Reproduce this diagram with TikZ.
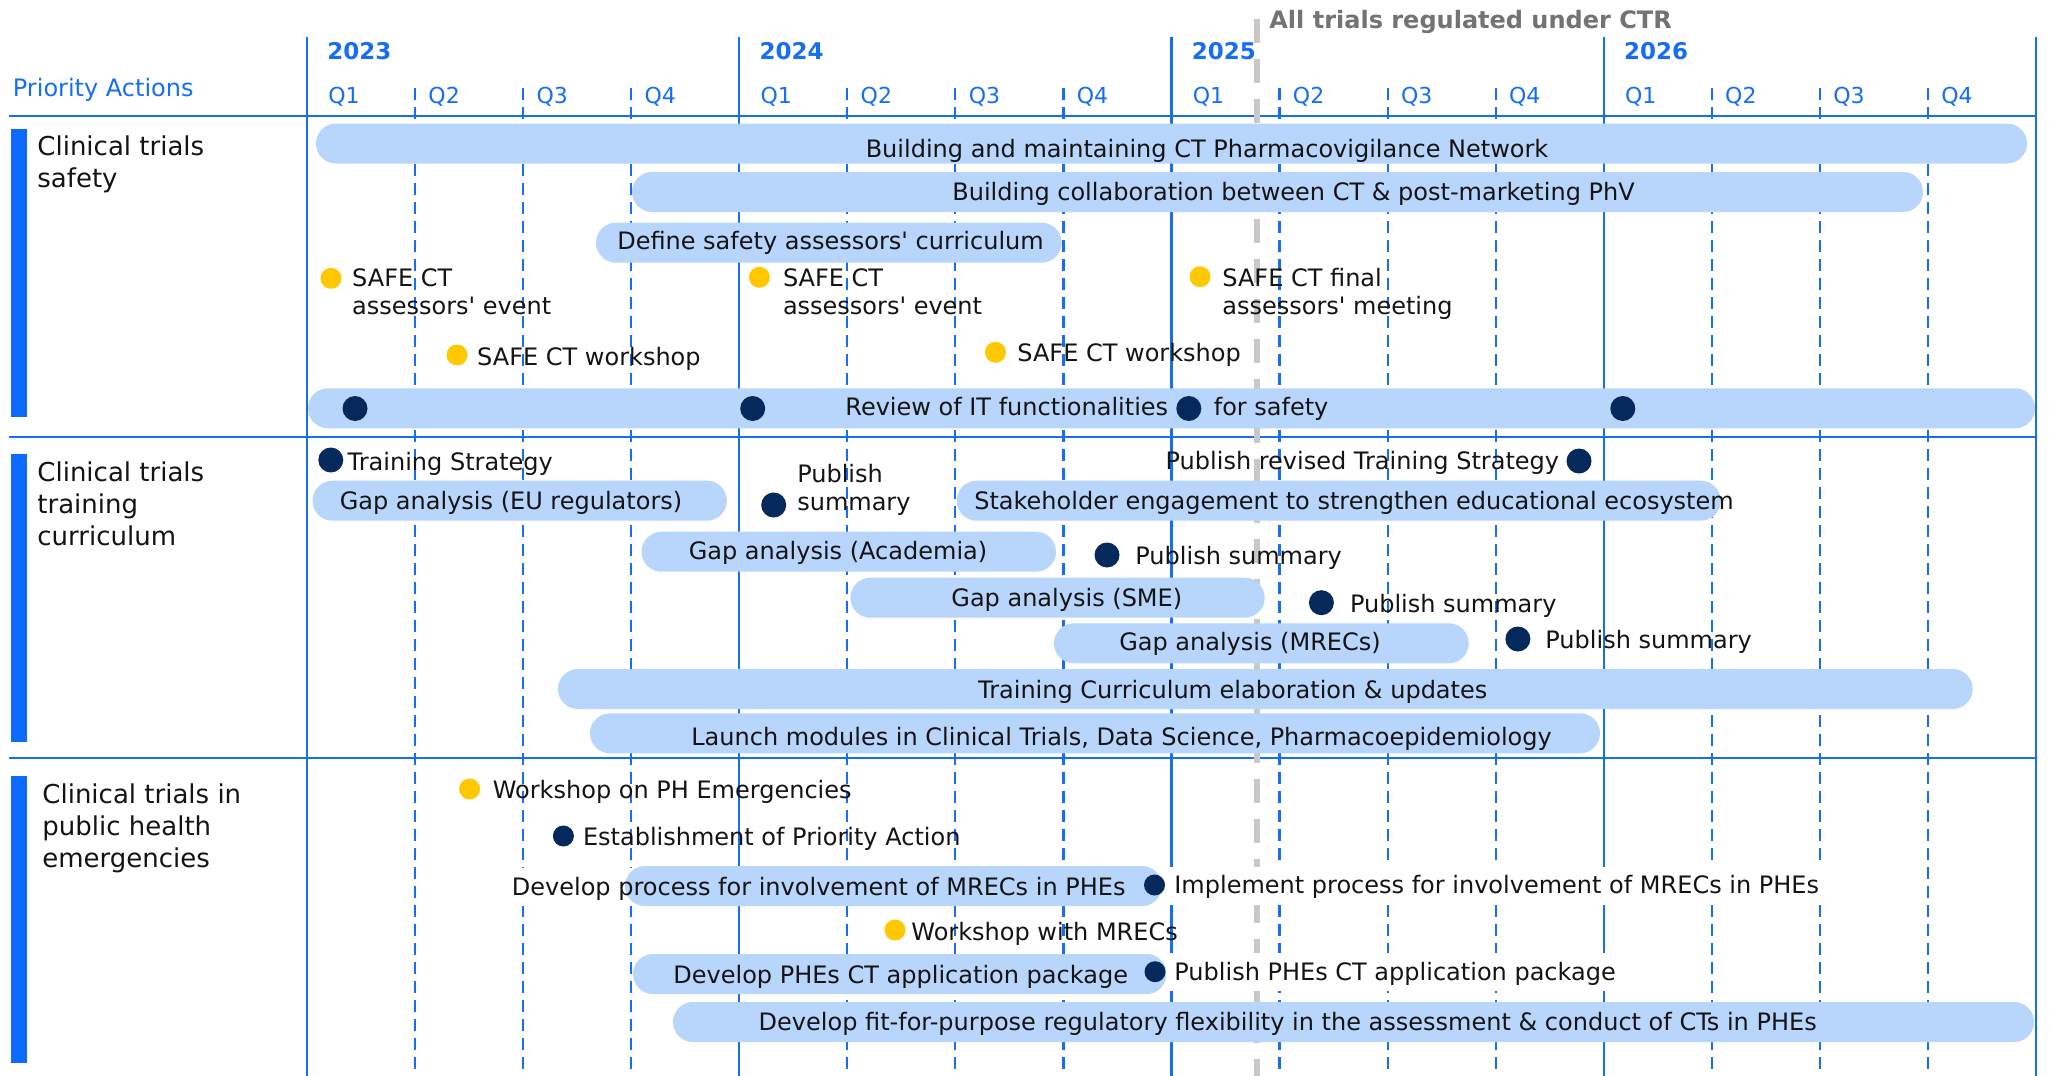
\documentclass[tikz,border=0pt]{standalone}
\usepackage{fontspec}
\setmainfont{DejaVu Sans}
\usetikzlibrary{positioning}

\definecolor{gridblue}{RGB}{22,110,245}
\definecolor{sideblue}{RGB}{14,106,255}
\definecolor{barblue}{RGB}{184,213,252}
\definecolor{navy}{RGB}{6,41,92}
\definecolor{amber}{RGB}{255,200,0}
\definecolor{ctrgray}{RGB}{200,200,200}
\definecolor{ctrtext}{RGB}{115,115,115}
\definecolor{ink}{RGB}{20,20,20}

\pgfdeclarelayer{grid}
\pgfdeclarelayer{mask}
\pgfsetlayers{grid,mask,main}

\tikzset{
  yearline/.style={gridblue, line width=1.1pt},
  qline/.style={gridblue, line width=1.1pt, dash pattern=on 6pt off 3.5pt},
  ctrline/.style={ctrgray, line width=3pt, dash pattern=on 12pt off 8pt},
  barfill/.style={fill=barblue, rounded corners=10pt},
  bartext/.style={anchor=base, inner sep=0pt, text=ink, font=\fontsize{12}{14}\selectfont},
  mstext/.style={anchor=base west, inner sep=0pt, text=ink, font=\fontsize{12}{14}\selectfont},
  mstwo/.style={anchor=north west, inner sep=0pt, align=left, text=ink, font=\fontsize{12}{14}\selectfont},
  navydot/.style={circle, fill=navy, inner sep=0pt, minimum size=12.5pt},
  smalldot/.style={navydot, minimum size=10.5pt},
  amberdot/.style={circle, fill=amber, inner sep=0pt, minimum size=10.5pt},
  catlabel/.style={anchor=north west, inner sep=0pt, align=left, text=ink, font=\fontsize{13}{16}\selectfont},
  yearlab/.style={anchor=base west, inner sep=0pt, text=gridblue, font=\fontsize{11.5}{13}\selectfont\bfseries},
  qlab/.style={anchor=base west, inner sep=0pt, text=gridblue, font=\fontsize{11}{13}\selectfont},
}

% straight apostrophe
\newcommand{\apos}{\textquotesingle}

% bar: name, x from, x to, y centre, text x, text baseline, text
\newcommand{\ctbar}[7]{%
  \fill[barfill] (#2,#4-20) rectangle (#3,#4+20);
  \node[bartext] (#1) at (#5,#6) {#7};
}

\begin{document}
\begin{tikzpicture}[x=0.5pt,y=-0.5pt]
\useasboundingbox (0,0) rectangle (2053,1076);

\begin{pgfonlayer}{grid}
  \fill[white] (0,0) rectangle (2053,1076);
  % years and quarters
  \foreach \yr [count=\i from 0] in {2023,2024,2025,2026}{
    \pgfmathsetmacro{\xs}{307+432.25*\i}
    \draw[yearline] (\xs,36.7) -- (\xs,1076);
    \node[yearlab] (y\yr) at (\xs+20,60) {\yr};
    \node[qlab] (q\yr-1) at (\xs+21,103.3) {Q1};
    \foreach \q in {2,3,4}{
      \pgfmathsetmacro{\xq}{\xs+108.06*(\q-1)}
      \draw[qline] (\xq,88) -- (\xq,1076);
      \node[qlab] (q\yr-\q) at (\xq+13,103.3) {Q\q};
    }
  }
  \draw[yearline] (2036,36.7) -- (2036,1076);
  \foreach \y in {115.7,436.7,758.3}
    \draw[yearline] (9,\y) -- (2036,\y);
  % CTR
  \draw[ctrline] (1257,19) -- (1257,1076);
\end{pgfonlayer}

\node[anchor=base west, inner sep=0pt, text=ctrtext, font=\fontsize{12}{14}\selectfont\bfseries]
  (ctr) at (1269,28.3) {All trials regulated under CTR};
\node[anchor=base west, inner sep=0pt, text=gridblue, font=\fontsize{12}{14}\selectfont]
  (head) at (12.5,96.7) {Priority Actions};

% priority actions
\foreach \ya/\yb in {129/416.7,454/741.7,776/1063.3}
  \fill[sideblue] (11,\ya) rectangle (27,\yb);
\node[catlabel] (safety) at (37,135.2) {Clinical trials\\safety};
\node[catlabel] (training) at (37,461) {Clinical trials\\training\\curriculum};
\node[catlabel] (phe) at (42,783) {Clinical trials in\\public health\\emergencies};

% safety
\ctbar{network}{316}{2027}{143.5}{1207}{157.3}{Building and maintaining CT Pharmacovigilance Network}
\ctbar{collab}{632}{1923}{192}{1293.5}{200.7}{Building collaboration between CT \& post-marketing PhV}
\ctbar{curric}{596}{1061.6}{242.7}{830.5}{249.3}{Define safety assessors\apos{} curriculum}

\node[amberdot] (ev1) at (331,278.3) {};
\node[mstwo] (ev1t) at (351.8,268.5) {SAFE CT\\assessors\apos{} event};
\node[amberdot] (ev2) at (759.4,277.3) {};
\node[mstwo] (ev2t) at (782.6,268.5) {SAFE CT\\assessors\apos{} event};
\node[amberdot] (ev3) at (1200,276.7) {};
\node[mstwo] (ev3t) at (1222,268) {SAFE CT final\\assessors\apos{} meeting};
\node[amberdot] (ws1) at (457,355) {};
\node[mstext] (ws1t) at (476.8,365.7) {SAFE CT workshop};
\node[amberdot] (ws2) at (995.5,352.3) {};
\node[mstext] (ws2t) at (1017,361.7) {SAFE CT workshop};

\fill[barfill] (308,388.3) rectangle (2035,428.3);
\node[mstext] (review) at (845,415) {Review of IT functionalities};
\node[mstext] (reviewb) at (1213.4,415) {for safety};
\foreach \x [count=\k] in {355,752.7,1188.8,1622.8}
  \node[navydot] (it\k) at (\x,408.5) {};

% training
\node[navydot] (ts) at (330.8,460) {};
\node[mstext] (tst) at (347.3,470.7) {Training Strategy};
\ctbar{gapeu}{312.5}{726.8}{500.7}{511}{509}{Gap analysis (EU regulators)}
\node[navydot] (pub1) at (773.7,505) {};
\node[mstwo] (pub1t) at (796.9,463.5) {Publish\\summary};
\ctbar{stake}{956.7}{1720.7}{500.7}{1354}{509}{Stakeholder engagement to strengthen educational ecosystem}
\node[navydot] (rts) at (1579,461) {};
\node[mstext, anchor=base east] (rtst) at (1559.5,469.3) {Publish revised Training Strategy};
\ctbar{gapacad}{641.5}{1056}{551.7}{838}{559.3}{Gap analysis (Academia)}
\node[navydot] (pub2) at (1107,555) {};
\node[mstext] (pub2t) at (1135,564) {Publish summary};
\ctbar{gapsme}{850.4}{1264.7}{597.7}{1066.8}{606.7}{Gap analysis (SME)}
\node[navydot] (pub3) at (1321.4,602.7) {};
\node[mstext] (pub3t) at (1349.6,612.7) {Publish summary};
\ctbar{gapmrec}{1054}{1468.7}{643.3}{1250}{650}{Gap analysis (MRECs)}
\node[navydot] (pub4) at (1517.9,639) {};
\node[mstext] (pub4t) at (1545,648) {Publish summary};
\ctbar{tcur}{558}{1972.7}{689}{1232.7}{698.3}{Training Curriculum elaboration \& updates}
\ctbar{launch}{590}{1600}{733.3}{1121.5}{745}{Launch modules in Clinical Trials, Data Science, Pharmacoepidemiology}

% public health emergencies
\node[amberdot] (wph) at (469.6,789) {};
\node[mstext] (wpht) at (492.4,798.3) {Workshop on PH Emergencies};
\node[smalldot] (est) at (563.4,836) {};
\node[mstext] (estt) at (582.6,845.7) {Establishment of Priority Action};
\ctbar{devproc}{625}{1162}{886}{818.7}{895}{Develop process for involvement of MRECs in PHEs}
\node[smalldot] (impl) at (1154.5,885) {};
\node[mstext] (implt) at (1174,893.3) {Implement process for involvement of MRECs in PHEs};
\node[amberdot] (wmr) at (895,930) {};
\node[mstext] (wmrt) at (911,940.7) {Workshop with MRECs};
\ctbar{devpkg}{633}{1166.5}{974}{900.7}{983.3}{Develop PHEs CT application package}
\node[smalldot] (pkg) at (1155,971.7) {};
\node[mstext] (pkgt) at (1174,980) {Publish PHEs CT application package};
\ctbar{flex}{673}{2034}{1022}{1287.7}{1030}{Develop fit-for-purpose regulatory flexibility in the assessment \& conduct of CTs in PHEs}

\begin{pgfonlayer}{mask}
  \foreach \n in {devproc,implt,pkgt}
    \fill[white] ([shift={(-3pt,4pt)}]\n.north west) rectangle ([shift={(3pt,-3pt)}]\n.south east);
\end{pgfonlayer}
\end{tikzpicture}
\end{document}
